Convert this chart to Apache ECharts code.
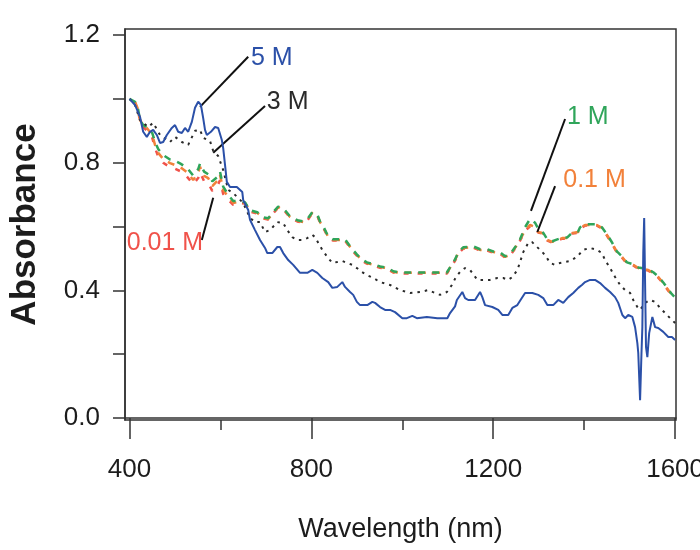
<!DOCTYPE html>
<html>
<head>
<meta charset="utf-8">
<title>Absorbance spectra</title>
<script src="https://cdn.jsdelivr.net/npm/echarts@6/dist/echarts.min.js"></script>
<style>
  html, body { margin: 0; padding: 0; background: #fff; }
  #chart { width: 700px; height: 550px; }
</style>
</head>
<body>
<div id="chart"></div>
<script>
// Absorbance vs wavelength for five electrolyte concentrations
const seriesNames = ['5 M', '3 M', '1 M', '0.1 M', '0.01 M'];

const yTickValues = [0, 0.2, 0.4, 0.6, 0.8, 1.0, 1.2];
const yLabelValues = [0, 0.4, 0.8, 1.2];
const xMajorTicks = [400, 800, 1200, 1600];
const xMinorTicks = [600, 1000, 1400];

// [wavelength (nm), absorbance]
const abs5M = [
  [400,1.000],[412,0.981],[423,0.944],[430,0.897],[438,0.881],[445,0.897],[452,0.903],[460,0.887],
  [467,0.862],[474,0.865],[482,0.887],[493,0.909],[500,0.918],[507,0.897],[515,0.893],[522,0.909],
  [529,0.897],[537,0.928],[544,0.972],[551,0.991],[557,0.981],[562,0.940],[566,0.903],[570,0.887],
  [579,0.897],[588,0.912],[595,0.909],[603,0.871],[606,0.846],[610,0.793],[614,0.740],[621,0.724],
  [636,0.724],[648,0.708],[650,0.683],[661,0.652],[665,0.621],[676,0.589],[687,0.558],[698,0.533],
  [703,0.517],[714,0.517],[725,0.536],[731,0.536],[738,0.517],[749,0.495],[760,0.480],[775,0.455],
  [791,0.455],[802,0.464],[813,0.455],[824,0.439],[837,0.426],[846,0.408],[857,0.411],[868,0.426],
  [874,0.411],[885,0.395],[892,0.386],[900,0.364],[907,0.354],[923,0.354],[934,0.364],[940,0.361],
  [951,0.348],[962,0.339],[973,0.339],[984,0.332],[1000,0.313],[1010,0.313],[1022,0.320],[1032,0.313],
  [1054,0.317],[1077,0.313],[1099,0.313],[1105,0.329],[1116,0.350],[1120,0.370],[1132,0.395],[1138,0.376],
  [1145,0.370],[1160,0.370],[1171,0.395],[1176,0.379],[1182,0.354],[1198,0.348],[1211,0.339],[1220,0.323],
  [1233,0.323],[1242,0.345],[1253,0.354],[1260,0.370],[1270,0.392],[1286,0.392],[1299,0.386],[1310,0.376],
  [1319,0.354],[1332,0.354],[1343,0.370],[1354,0.361],[1365,0.379],[1376,0.392],[1387,0.408],[1395,0.417],
  [1402,0.426],[1413,0.433],[1424,0.433],[1435,0.423],[1446,0.408],[1457,0.395],[1468,0.379],[1475,0.361],
  [1484,0.323],[1490,0.313],[1497,0.323],[1506,0.317],[1512,0.285],[1517,0.235],[1519,0.204],[1523,0.056],
  [1526,0.200],[1528,0.285],[1530,0.517],[1532,0.627],[1534,0.423],[1536,0.223],[1539,0.191],[1543,0.266],
  [1550,0.317],[1556,0.285],[1563,0.282],[1574,0.270],[1585,0.254],[1593,0.254],[1600,0.245]
];

const abs3M = [
  [400,1.000],[412,0.981],[423,0.934],[441,0.912],[452,0.925],[467,0.887],[489,0.865],[500,0.881],
  [515,0.865],[529,0.856],[544,0.900],[555,0.903],[562,0.878],[577,0.868],[584,0.837],[595,0.821],
  [606,0.777],[617,0.715],[628,0.705],[650,0.674],[665,0.627],[676,0.614],[687,0.614],[698,0.583],
  [709,0.589],[725,0.614],[738,0.611],[747,0.589],[758,0.567],[769,0.558],[780,0.558],[791,0.564],
  [802,0.574],[808,0.567],[815,0.549],[824,0.527],[835,0.505],[846,0.486],[857,0.489],[868,0.492],
  [879,0.486],[890,0.480],[900,0.470],[911,0.458],[922,0.448],[936,0.439],[951,0.426],[973,0.417],
  [995,0.401],[1017,0.392],[1039,0.395],[1057,0.401],[1072,0.392],[1083,0.386],[1098,0.395],[1109,0.417],
  [1118,0.442],[1127,0.458],[1138,0.470],[1149,0.464],[1165,0.433],[1178,0.433],[1193,0.433],[1209,0.439],
  [1222,0.439],[1233,0.433],[1242,0.442],[1253,0.464],[1259,0.489],[1266,0.520],[1277,0.549],[1285,0.552],
  [1292,0.542],[1303,0.527],[1314,0.511],[1325,0.486],[1336,0.480],[1347,0.486],[1358,0.489],[1369,0.492],
  [1384,0.505],[1398,0.527],[1413,0.533],[1428,0.527],[1439,0.517],[1446,0.495],[1457,0.470],[1468,0.442],
  [1479,0.417],[1490,0.401],[1501,0.392],[1508,0.370],[1517,0.348],[1523,0.339],[1534,0.361],[1545,0.370],
  [1556,0.364],[1567,0.345],[1578,0.329],[1589,0.313],[1600,0.298]
];

const abs1M = [
  [400,1.000],[412,0.991],[419,0.966],[423,0.934],[430,0.918],[438,0.912],[450,0.893],[456,0.866],
  [463,0.843],[474,0.824],[489,0.810],[500,0.806],[511,0.798],[526,0.785],[540,0.760],[551,0.780],
  [555,0.797],[564,0.772],[573,0.764],[582,0.742],[593,0.755],[599,0.772],[606,0.725],[617,0.700],
  [628,0.680],[639,0.680],[654,0.676],[665,0.651],[681,0.645],[694,0.629],[705,0.626],[716,0.645],
  [727,0.663],[742,0.651],[753,0.632],[769,0.620],[782,0.616],[791,0.623],[802,0.645],[813,0.638],
  [819,0.616],[826,0.601],[837,0.569],[848,0.560],[874,0.560],[890,0.529],[900,0.513],[911,0.497],
  [922,0.488],[936,0.482],[951,0.475],[967,0.471],[980,0.460],[995,0.456],[1054,0.456],[1098,0.456],
  [1109,0.481],[1116,0.497],[1123,0.519],[1134,0.535],[1156,0.538],[1171,0.529],[1187,0.529],[1200,0.522],
  [1215,0.519],[1226,0.507],[1237,0.513],[1248,0.535],[1259,0.560],[1270,0.598],[1281,0.624],[1292,0.612],
  [1299,0.593],[1308,0.585],[1319,0.560],[1330,0.554],[1341,0.560],[1352,0.566],[1363,0.566],[1374,0.582],
  [1387,0.585],[1391,0.598],[1402,0.607],[1428,0.607],[1439,0.598],[1450,0.576],[1461,0.551],[1472,0.522],
  [1483,0.507],[1494,0.488],[1508,0.482],[1519,0.472],[1541,0.466],[1552,0.457],[1563,0.444],[1574,0.425],
  [1585,0.403],[1593,0.388],[1600,0.378]
];

const abs01M = [
  [400,1.000],[412,0.991],[419,0.966],[423,0.934],[430,0.918],[438,0.909],[450,0.887],[456,0.856],
  [463,0.831],[474,0.812],[489,0.799],[500,0.793],[511,0.787],[526,0.771],[540,0.746],[551,0.768],
  [555,0.787],[564,0.759],[573,0.752],[582,0.727],[593,0.743],[599,0.762],[606,0.715],[617,0.693],
  [628,0.674],[639,0.677],[654,0.674],[665,0.649],[681,0.643],[694,0.627],[705,0.624],[716,0.643],
  [727,0.661],[742,0.649],[753,0.630],[769,0.618],[782,0.614],[791,0.621],[802,0.643],[813,0.636],
  [819,0.614],[826,0.599],[837,0.567],[848,0.558],[874,0.558],[890,0.527],[900,0.511],[911,0.495],
  [922,0.486],[936,0.480],[951,0.473],[967,0.470],[980,0.458],[995,0.455],[1054,0.455],[1098,0.455],
  [1109,0.480],[1116,0.495],[1123,0.517],[1134,0.533],[1156,0.536],[1171,0.527],[1187,0.527],[1200,0.520],
  [1215,0.517],[1226,0.505],[1237,0.511],[1248,0.533],[1259,0.558],[1270,0.589],[1281,0.605],[1292,0.599],
  [1299,0.583],[1308,0.580],[1319,0.558],[1330,0.552],[1341,0.558],[1352,0.564],[1363,0.564],[1374,0.580],
  [1387,0.583],[1391,0.596],[1402,0.605],[1428,0.605],[1439,0.596],[1450,0.574],[1461,0.549],[1472,0.520],
  [1483,0.505],[1494,0.486],[1508,0.480],[1519,0.470],[1541,0.464],[1552,0.455],[1563,0.442],[1574,0.423],
  [1585,0.401],[1593,0.386],[1600,0.376]
];

const abs001M = [
  [400,1.000],[412,0.988],[419,0.962],[423,0.930],[430,0.912],[438,0.900],[450,0.878],[456,0.846],
  [463,0.820],[474,0.800],[489,0.786],[500,0.781],[511,0.774],[526,0.757],[540,0.733],[551,0.752],
  [555,0.770],[564,0.742],[573,0.736],[582,0.712],[593,0.727],[599,0.745],[606,0.702],[617,0.684],
  [628,0.668],[639,0.674],[654,0.672],[665,0.647],[681,0.641],[694,0.625],[705,0.622],[716,0.641],
  [727,0.659],[742,0.647],[753,0.628],[769,0.616],[782,0.612],[791,0.619],[802,0.641],[813,0.634],
  [819,0.612],[826,0.597],[837,0.565],[848,0.556],[874,0.556],[890,0.525],[900,0.509],[911,0.493],
  [922,0.484],[936,0.478],[951,0.471],[967,0.468],[980,0.456],[995,0.453],[1054,0.453],[1098,0.453],
  [1109,0.478],[1116,0.493],[1123,0.515],[1134,0.531],[1156,0.534],[1171,0.525],[1187,0.525],[1200,0.518],
  [1215,0.515],[1226,0.503],[1237,0.509],[1248,0.531],[1259,0.556],[1270,0.586],[1281,0.601],[1292,0.596],
  [1299,0.581],[1308,0.578],[1319,0.556],[1330,0.550],[1341,0.556],[1352,0.562],[1363,0.562],[1374,0.578],
  [1387,0.581],[1391,0.594],[1402,0.603],[1428,0.603],[1439,0.594],[1450,0.572],[1461,0.547],[1472,0.518],
  [1483,0.503],[1494,0.484],[1508,0.478],[1519,0.468],[1541,0.462],[1552,0.453],[1563,0.440],[1574,0.421],
  [1585,0.399],[1593,0.384],[1600,0.374]
];

// Callout placement in data coordinates: label anchor and leader line end points
const callouts = {
  '5 M':    { text: [667, 1.129], align: 'left',  line: [[661, 1.132], [555, 0.975]] },
  '3 M':    { text: [702, 0.991], align: 'left',  line: [[698, 0.978], [584, 0.831]] },
  '1 M':    { text: [1362, 0.944], align: 'left', line: [[1358, 0.937], [1283, 0.649]] },
  '0.1 M':  { text: [1354, 0.746], align: 'left', line: [[1336, 0.727], [1297, 0.583]] },
  '0.01 M': { text: [562, 0.549], align: 'right', line: [[559, 0.558], [584, 0.690]] }
};

const FONT = "'Liberation Sans', Arial, sans-serif";
const INK = '#1c1c1c';

function callout(name, color) {
  const c = callouts[name];
  return {
    markLine: {
      silent: true,
      symbol: ['none', 'none'],
      animation: false,
      lineStyle: { type: 'solid', color: '#111', width: 2 },
      label: { show: false },
      data: [[{ coord: c.line[0] }, { coord: c.line[1] }]]
    },
    markPoint: {
      silent: true,
      symbol: 'circle',
      symbolSize: 0,
      animation: false,
      label: {
        show: true,
        position: 'inside',
        align: c.align,
        verticalAlign: 'middle',
        color: color,
        fontFamily: FONT,
        fontSize: 25,
        formatter: name
      },
      data: [{ coord: c.text }]
    }
  };
}

function lineSeries(name, data, color, lineStyle, z) {
  return Object.assign({
    name: name,
    type: 'line',
    data: data,
    showSymbol: false,
    symbol: 'none',
    z: z,
    lineStyle: Object.assign({ color: color, width: 2 }, lineStyle)
  }, callout(name, color));
}

const colors = {
  '5 M': '#2b50a8',
  '3 M': '#2a2a2a',
  '1 M': '#2fa55a',
  '0.1 M': '#f2813a',
  '0.01 M': '#f0524a'
};

const chart = echarts.init(document.getElementById('chart'), null, { renderer: 'canvas' });

chart.setOption({
  animation: false,
  backgroundColor: '#ffffff',
  grid: {
    left: 125, right: 24, top: 29, bottom: 130,
    containLabel: false,
    outerBoundsMode: 'none',
    show: true, borderColor: '#333', borderWidth: 1.5, backgroundColor: 'transparent'
  },
  xAxis: [
    {
      type: 'value',
      min: 390, max: 1602,
      name: 'Wavelength (nm)',
      nameLocation: 'middle',
      nameGap: 96,
      nameTextStyle: { fontFamily: FONT, fontSize: 27, color: INK },
      axisLine: { show: true, lineStyle: { color: '#333', width: 1.5 } },
      axisTick: { show: true, inside: false, length: 21, customValues: xMajorTicks,
                  lineStyle: { color: '#333', width: 1.5 } },
      axisLabel: { show: true, margin: 37, customValues: xMajorTicks,
                   formatter: v => String(v),
                   fontFamily: FONT, fontSize: 26, color: INK },
      splitLine: { show: false }
    },
    {
      type: 'value',
      min: 390, max: 1602,
      position: 'bottom',
      axisLine: { show: false },
      axisTick: { show: true, inside: false, length: 10, customValues: xMinorTicks,
                  lineStyle: { color: '#333', width: 1.5 } },
      axisLabel: { show: false },
      splitLine: { show: false }
    }
  ],
  yAxis: {
    type: 'value',
    min: -0.006, max: 1.219,
    name: 'Absorbance',
    nameLocation: 'middle',
    nameGap: 82,
    nameRotate: 90,
    nameTextStyle: { fontFamily: FONT, fontWeight: 'bold', fontSize: 35, color: INK },
    axisLine: { show: true, lineStyle: { color: '#333', width: 1.5 } },
    axisTick: { show: true, inside: false, length: 12, customValues: yTickValues,
                lineStyle: { color: '#333', width: 1.5 } },
    axisLabel: { show: true, margin: 25, customValues: yLabelValues,
                 formatter: v => v.toFixed(1),
                 fontFamily: FONT, fontSize: 26, color: INK },
    splitLine: { show: false }
  },
  series: [
    lineSeries('0.01 M', abs001M, colors['0.01 M'], { width: 2.5, type: [5, 9], dashOffset: 10 }, 2),
    lineSeries('0.1 M', abs01M, colors['0.1 M'], { width: 2.5, type: [7, 7], dashOffset: 7 }, 3),
    lineSeries('1 M', abs1M, colors['1 M'], { width: 2.5, type: [7, 7], dashOffset: 0 }, 4),
    lineSeries('3 M', abs3M, colors['3 M'], { width: 2, type: [2.5, 5] }, 5),
    lineSeries('5 M', abs5M, colors['5 M'], { width: 2 }, 6)
  ]
});
</script>
</body>
</html>
